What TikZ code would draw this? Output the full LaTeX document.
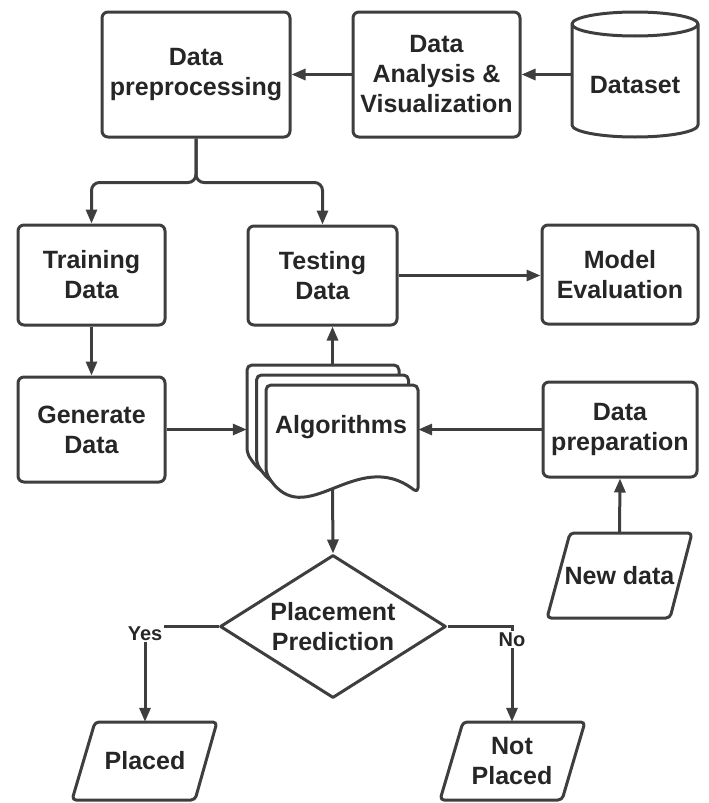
\documentclass[tikz,border=0pt]{standalone}
\usepackage{fontspec}
\setmainfont{Liberation Sans}
\usetikzlibrary{arrows.meta,shapes.geometric}
\definecolor{ln}{RGB}{62,62,62}
\definecolor{tx}{RGB}{38,38,38}
\tikzset{
  lbl/.style={font=\bfseries\fontsize{25}{30}\selectfont, text=tx, align=center},
  box/.style={lbl, draw=ln, line width=3pt, rounded corners=6pt, fill=white, inner sep=0pt},
  hid/.style={lbl, inner sep=0pt},
  shapeline/.style={draw=ln, line width=3pt, fill=white, line join=round},
  conn/.style={draw=ln, line width=3pt},
  arr/.style={conn, -{Triangle[length=14pt,width=11pt]}},
  yn/.style={font=\bfseries\fontsize{20}{23}\selectfont, text=tx, fill=white, inner sep=2pt},
}
\newcommand{\docpage}[2]{%
  \draw[shapeline, rounded corners=5pt, shift={(#1,#2)}]
    (266,473) -- (266,385) -- (418,385) -- (418,493)
    .. controls (356,445) and (305,535) .. (266,473) -- cycle;}
\begin{document}
\begin{tikzpicture}[x=1pt,y=-1pt]
\useasboundingbox (0,0) rectangle (709,803);

% ---- shapes drawn directly ----
% cylinder (Dataset)
\draw[shapeline] (572,24) -- (572,125)
  arc[start angle=180, end angle=360, x radius=63pt, y radius=12pt]
  -- (698,24)
  arc[start angle=0, end angle=180, x radius=63pt, y radius=12pt] -- cycle;
\draw[conn] (572,24) arc[start angle=180, end angle=360, x radius=63pt, y radius=12pt];
% multi-document (Algorithms)
\docpage{-19}{-20}
\docpage{-9.5}{-10}
\docpage{0}{0}
% parallelograms
\draw[shapeline, rounded corners=4pt] (570,533) -- (692,533) -- (670,618) -- (547,618) -- cycle;
\draw[shapeline, rounded corners=4pt] (95,722) -- (217,722) -- (195,800) -- (72,800) -- cycle;
\draw[shapeline, rounded corners=4pt] (463,722) -- (585,722) -- (562,800) -- (440,800) -- cycle;

% ---- nodes ----
\node[box, minimum width=188pt, minimum height=125pt] (dp) at (196,74.5) {Data\\preprocessing};
\node[box, minimum width=167pt, minimum height=125pt] (dav) at (436.5,74.5) {Data\\Analysis \&\\Visualization};
\node[hid, minimum width=126pt, minimum height=100pt] (ds) at (635,85) {Dataset};

\node[box, minimum width=147pt, minimum height=100pt] (train) at (91.5,275) {Training\\Data};
\node[box, minimum width=149pt, minimum height=99pt] (test) at (322.5,275.5) {Testing\\Data};
\node[box, minimum width=156pt, minimum height=99pt] (model) at (620,274.5) {Model\\Evaluation};

\node[box, minimum width=147pt, minimum height=105pt] (gen) at (91.5,429.5) {Generate\\Data};
\node[hid, minimum width=171pt, minimum height=128pt] (alg) at (332.5,429) {};
\node[hid] (algtext) at (341,427) {Algorithms};
\coordinate (algbot) at (332.5,488);
\node[box, minimum width=154pt, minimum height=95pt] (prep) at (620,429.5) {Data\\preparation};

\node[hid, minimum width=100pt, minimum height=85pt] (nd) at (619.5,575.5) {New data};
\node[lbl, diamond, draw=ln, line width=3pt, fill=white, line join=round, aspect=1.58,
      minimum width=226pt, minimum height=143pt, inner sep=0pt] (dia) at (333,626.5) {Placement\\Prediction};
\node[hid, minimum width=100pt, minimum height=78pt] (pl) at (145,761) {Placed};
\node[hid, minimum width=100pt, minimum height=78pt] (np) at (512,761) {Not\\Placed};

% ---- connectors ----
\draw[arr] (ds.west |- dav.east) -- (dav.east);
\draw[arr] (dav.west) -- (dp.east);
\draw[arr, rounded corners=8pt] (dp.south) -- ++(0,44) -| (train.north);
\draw[arr, rounded corners=8pt] (dp.south) -- ++(0,44) -| (test.north);
\draw[arr] (test.east) -- (test.east -| model.west);
\draw[arr] (train.south) -- (gen.north);
\draw[arr] (gen.east) -- (gen.east -| alg.west);
\draw[arr] (prep.west) -- (prep.west -| alg.east);
\draw[arr] (alg.north) -- (alg.north |- test.south);
\draw[arr] (algbot) -- (dia.north);
\draw[arr] (nd.north) -- (prep.south);
\draw[arr] (dia.west) -| node[yn, pos=0.5, yshift=-7pt] {Yes} (pl.north);
\draw[arr] (dia.east) -| node[yn, pos=0.5, yshift=-13pt] {No} (np.north);
\end{tikzpicture}
\end{document}
